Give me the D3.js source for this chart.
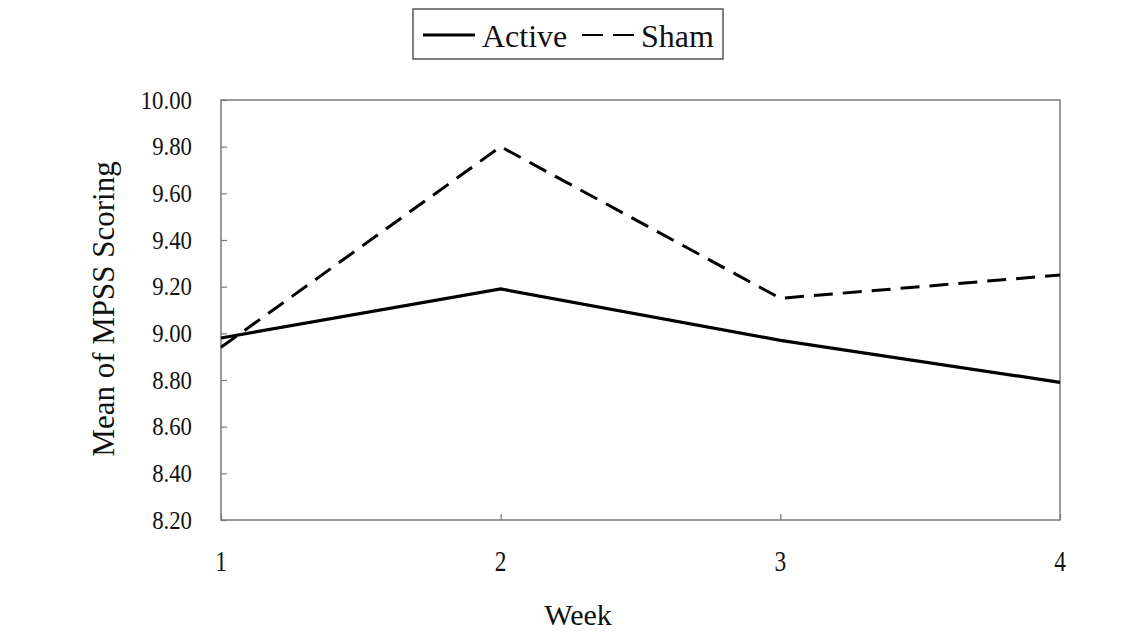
<!DOCTYPE html>
<html>
<head>
<meta charset="utf-8">
<script src="https://cdn.jsdelivr.net/npm/d3@7"></script>
<style>
  body { margin: 0; background: #fff; }
  svg text { font-family: "Liberation Serif", "Times New Roman", serif; fill: #111; }
</style>
</head>
<body>
<svg id="chart" width="1142" height="632"></svg>
<script>
// data
const weeks = [1, 2, 3, 4];
const active = [8.98, 9.19, 8.97, 8.79];
const sham = [8.94, 9.80, 9.15, 9.25];
const yTicks = [8.20, 8.40, 8.60, 8.80, 9.00, 9.20, 9.40, 9.60, 9.80, 10.00];

const margin = {left: 221, right: 1060, top: 100, bottom: 520};
const axisColor = "#7a7a7a";

const svg = d3.select("#chart");

const x = d3.scaleLinear()
    .domain([1, 4])
    .range([margin.left, margin.right]);
const y = d3.scaleLinear()
    .domain([8.2, 10.0])
    .range([margin.bottom, margin.top]);

// plot frame
svg.append("rect")
    .attr("x", margin.left)
    .attr("y", margin.top)
    .attr("width", margin.right - margin.left)
    .attr("height", margin.bottom - margin.top)
    .attr("fill", "none")
    .attr("stroke", axisColor)
    .attr("stroke-width", 1.5);

// y axis, ticks point inward
const yAxis = svg.append("g")
    .attr("transform", `translate(${margin.left},0)`)
    .call(d3.axisRight(y).tickValues(yTicks).tickSize(6).tickFormat(""));
yAxis.select(".domain").remove();
yAxis.selectAll("line").attr("stroke", axisColor).attr("stroke-width", 1.2);

// tick labels are a little taller than wide in the source, so stretch them
svg.append("g").selectAll("text")
    .data(yTicks)
    .join("text")
    .attr("transform", d => `translate(192,${y(d) + 8.5}) scale(0.95,1.08)`)
    .attr("text-anchor", "end")
    .attr("font-size", 24)
    .text(d => d.toFixed(2));

// x axis, ticks point up
const xAxis = svg.append("g")
    .attr("transform", `translate(0,${margin.bottom})`)
    .call(d3.axisTop(x).tickValues(weeks).tickSize(6).tickFormat(""));
xAxis.select(".domain").remove();
xAxis.selectAll("line").attr("stroke", axisColor).attr("stroke-width", 1.2);

svg.append("g").selectAll("text")
    .data(weeks)
    .join("text")
    .attr("transform", d => `translate(${x(d)},571) scale(0.9,1.1)`)
    .attr("text-anchor", "middle")
    .attr("font-size", 26)
    .text(d => d);

// axis titles
svg.append("text")
    .attr("x", 578)
    .attr("y", 625)
    .attr("text-anchor", "middle")
    .attr("font-size", 30)
    .text("Week");

svg.append("text")
    .attr("transform", "translate(114,309) rotate(-90)")
    .attr("text-anchor", "middle")
    .attr("font-size", 31)
    .text("Mean of MPSS Scoring");

// lines
const line = d3.line()
    .x((d, i) => x(weeks[i]))
    .y(d => y(d));

svg.append("path")
    .datum(sham)
    .attr("d", line)
    .attr("fill", "none")
    .attr("stroke", "#000")
    .attr("stroke-width", 3)
    .attr("stroke-dasharray", "19,10");

svg.append("path")
    .datum(active)
    .attr("d", line)
    .attr("fill", "none")
    .attr("stroke", "#000")
    .attr("stroke-width", 3.2);

// legend
const legend = svg.append("g");
legend.append("rect")
    .attr("x", 413).attr("y", 9)
    .attr("width", 310).attr("height", 50)
    .attr("fill", "#fff")
    .attr("stroke", "#555")
    .attr("stroke-width", 1.5);
legend.append("line")
    .attr("x1", 423).attr("x2", 475).attr("y1", 35).attr("y2", 35)
    .attr("stroke", "#000").attr("stroke-width", 3.2);
legend.append("text")
    .attr("x", 482).attr("y", 47)
    .attr("font-size", 32)
    .text("Active");
legend.append("line")
    .attr("x1", 582).attr("x2", 634).attr("y1", 35).attr("y2", 35)
    .attr("stroke", "#000").attr("stroke-width", 2)
    .attr("stroke-dasharray", "21,10");
legend.append("text")
    .attr("x", 641).attr("y", 47)
    .attr("font-size", 32)
    .text("Sham");
</script>
</body>
</html>
